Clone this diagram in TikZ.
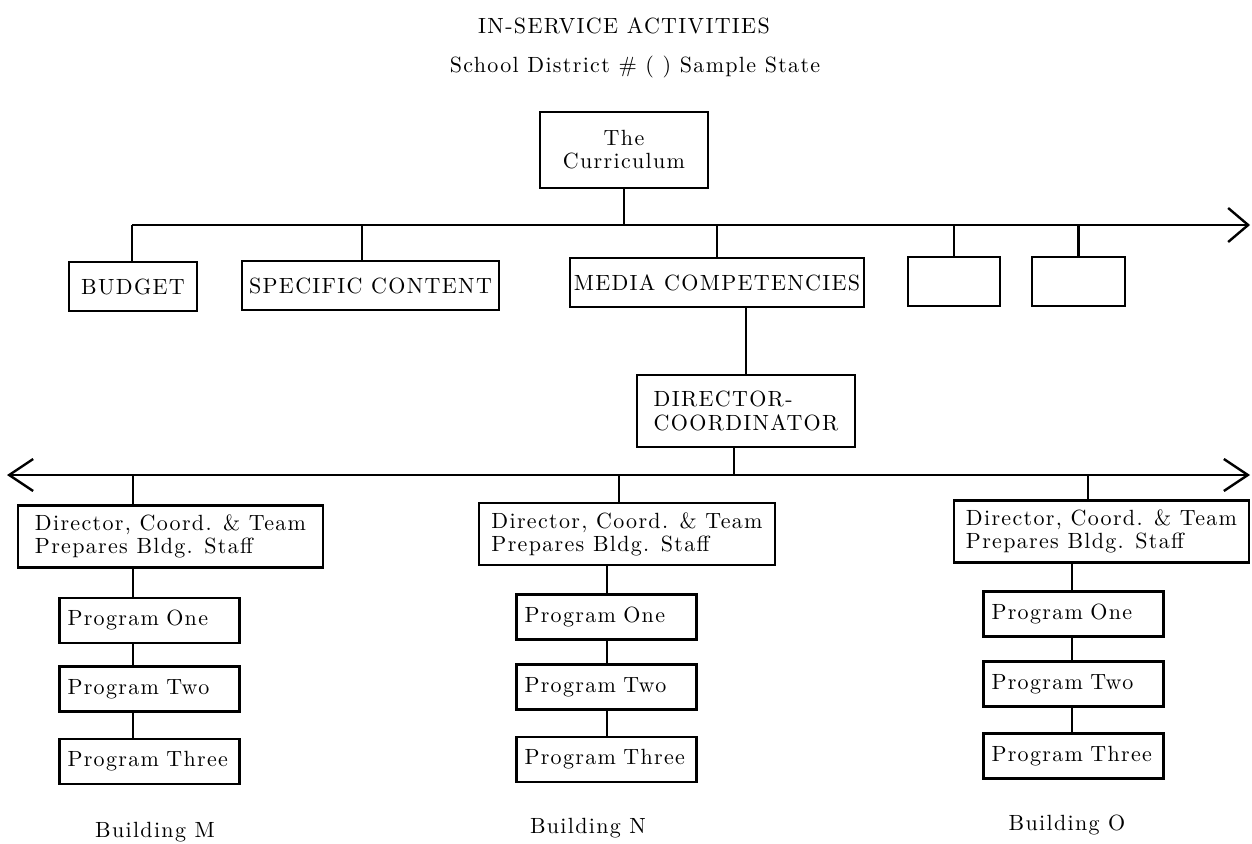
\documentclass[tikz,border=0pt]{standalone}
\usepackage{fontspec}
\setmainfont{Latin Modern Roman}[LetterSpace=6]
\usetikzlibrary{arrows.meta,positioning}

\begin{document}
\begin{tikzpicture}[x=0.5pt,y=-0.5pt,line width=1.2pt,
	font=\fontsize{11pt}{11.6pt}\selectfont,
	box/.style={draw,inner sep=2pt,align=center},
	top/.style={box,minimum height=24.5pt},
	team/.style={box,align=left,minimum height=31pt,inner xsep=6pt},
	prog/.style={box,align=left,text width=82pt,minimum height=22.5pt,inner xsep=4pt},
	barbs/.style={line width=1.2pt}]
	\useasboundingbox (0,0) rectangle (1252,844);

	% headings
	\node (title) at (624,26) {IN-SERVICE ACTIVITIES};
	\node (sub) at (635,67) {School District \# ( ) Sample State};

	% curriculum and its topics
	\node[box,minimum width=84pt,minimum height=38pt] (cur) at (624,150) {The\\Curriculum};
	\coordinate (b1L) at (132,225);
	\coordinate (b1R) at (1250,225);
	\coordinate (sSpec) at (362,225);
	\node[top,minimum width=64pt] (budget) at (133,286.5) {BUDGET};
	\node[top,minimum width=128.5pt] (spec) at (370.5,285.5) {SPECIFIC CONTENT};
	\node[top,minimum width=146pt] (media) at (717,282.5) {MEDIA COMPETENCIES};
	\node[top,minimum width=46pt] (blankA) at (954,281.5) {};
	\node[top,minimum width=46.5pt] (blankB) at (1078.5,281.5) {};

	\draw[barbs,-{Straight Barb[length=10pt,width=17pt,line width=1.2pt]}] (b1L) -- (b1R);
	\draw (cur) -- (cur |- b1L);
	\draw (b1L) -- (budget.north -| b1L);
	\draw (sSpec) -- (spec.north -| sSpec);
	\draw (media.north |- b1L) -- (media);
	\draw (blankA.north |- b1L) -- (blankA);
	\draw (blankB.north |- b1L) -- (blankB);

	% director
	\node[box,align=left,minimum width=109pt,minimum height=36pt] (dir) at (746,411) {DIRECTOR-\\COORDINATOR};
	\draw (media.south -| dir) -- (dir);
	\coordinate (b2L) at (7,475);
	\coordinate (b2R) at (1250,475);
	\coordinate (dStem) at (734,475);
	\draw[barbs,{Straight Barb[length=12pt,width=16pt,line width=1.2pt]}-{Straight Barb[length=12pt,width=16pt,line width=1.2pt]}] (b2L) -- (b2R);
	\draw (dir.south -| dStem) -- (dStem);

	% buildings
	\coordinate (mX) at (133,475);
	\coordinate (nX) at (619,475);
	\coordinate (oX) at (1088,475);
	\node[team,minimum width=152.5pt] (teamM) at (170.5,536.5) {Director, Coord. \& Team\\Prepares Bldg. Staff};
	\node[team,minimum width=148pt] (teamN) at (627,534) {Director, Coord. \& Team\\Prepares Bldg. Staff};
	\node[team,minimum width=147.5pt] (teamO) at (1101.5,531.5) {Director, Coord. \& Team\\Prepares Bldg. Staff};
	\draw (mX) -- (teamM.north -| mX);
	\draw (nX) -- (teamN.north -| nX);
	\draw (oX) -- (teamO.north -| oX);

	\node[prog] (progM1) at (149.5,620.5) {Program One};
	\node[prog] (progM2) at (149.5,689) {Program Two};
	\node[prog] (progM3) at (149.5,761.5) {Program~Three};
	\node[prog] (progN1) at (606.5,617) {Program One};
	\node[prog] (progN2) at (606.5,687) {Program Two};
	\node[prog] (progN3) at (606.5,759.5) {Program~Three};
	\node[prog] (progO1) at (1073.5,614) {Program One};
	\node[prog] (progO2) at (1073.5,684) {Program Two};
	\node[prog] (progO3) at (1073.5,756) {Program~Three};

	\coordinate (nLink) at (607,565);
	\coordinate (oLink) at (1072,563);
	\draw (teamM.south -| mX) -- (progM1.north -| mX)
		(progM1.south -| mX) -- (progM2.north -| mX)
		(progM2.south -| mX) -- (progM3.north -| mX);
	\draw (teamN.south -| nLink) -- (progN1.north -| nLink)
		(progN1.south -| nLink) -- (progN2.north -| nLink)
		(progN2.south -| nLink) -- (progN3.north -| nLink);
	\draw (teamO.south -| oLink) -- (progO1.north -| oLink)
		(progO1.south -| oLink) -- (progO2.north -| oLink)
		(progO2.south -| oLink) -- (progO3.north -| oLink);

	\node (bldM) at (155,832) {Building M};
	\node (bldN) at (588,828) {Building N};
	\node (bldO) at (1067,825) {Building O};
\end{tikzpicture}
\end{document}
